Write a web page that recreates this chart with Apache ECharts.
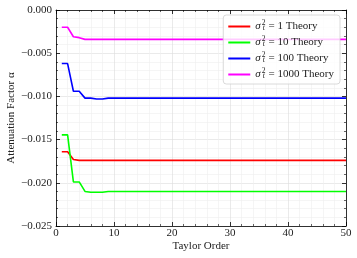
<!DOCTYPE html>
<html><head><meta charset="utf-8">
<script src="https://cdn.jsdelivr.net/npm/echarts@6/dist/echarts.min.js"></script>
<style>html,body{margin:0;padding:0;background:#fff}#c{width:357px;height:258px}</style>
</head><body><div id="c"></div>
<script>
const orders = [1,2,3,4,5,6,7,8,9,10,11,12,13,14,15,16,17,18,19,20,21,22,23,24,25,26,27,28,29,30,31,32,33,34,35,36,37,38,39,40,41,42,43,44,45,46,47,48,49,50];
const seriesNames = ['σ1', 'σ10', 'σ100', 'σ1000'];
const seriesLabels = ['1', '10', '100', '1000'];
const sigma1 = [-0.0164,-0.0164,-0.0173,-0.0174,-0.0174,-0.0174,-0.0174,-0.0174,-0.0174,-0.0174,-0.0174,-0.0174,-0.0174,-0.0174,-0.0174,-0.0174,-0.0174,-0.0174,-0.0174,-0.0174,-0.0174,-0.0174,-0.0174,-0.0174,-0.0174,-0.0174,-0.0174,-0.0174,-0.0174,-0.0174,-0.0174,-0.0174,-0.0174,-0.0174,-0.0174,-0.0174,-0.0174,-0.0174,-0.0174,-0.0174,-0.0174,-0.0174,-0.0174,-0.0174,-0.0174,-0.0174,-0.0174,-0.0174,-0.0174,-0.0174];
const sigma10 = [-0.01445,-0.01445,-0.0199,-0.0199,-0.0210,-0.0211,-0.0211,-0.0211,-0.0210,-0.0210,-0.0210,-0.0210,-0.0210,-0.0210,-0.0210,-0.0210,-0.0210,-0.0210,-0.0210,-0.0210,-0.0210,-0.0210,-0.0210,-0.0210,-0.0210,-0.0210,-0.0210,-0.0210,-0.0210,-0.0210,-0.0210,-0.0210,-0.0210,-0.0210,-0.0210,-0.0210,-0.0210,-0.0210,-0.0210,-0.0210,-0.0210,-0.0210,-0.0210,-0.0210,-0.0210,-0.0210,-0.0210,-0.0210,-0.0210,-0.0210];
const sigma100 = [-0.0062,-0.0062,-0.0094,-0.0094,-0.0102,-0.0102,-0.0103,-0.0103,-0.0102,-0.0102,-0.0102,-0.0102,-0.0102,-0.0102,-0.0102,-0.0102,-0.0102,-0.0102,-0.0102,-0.0102,-0.0102,-0.0102,-0.0102,-0.0102,-0.0102,-0.0102,-0.0102,-0.0102,-0.0102,-0.0102,-0.0102,-0.0102,-0.0102,-0.0102,-0.0102,-0.0102,-0.0102,-0.0102,-0.0102,-0.0102,-0.0102,-0.0102,-0.0102,-0.0102,-0.0102,-0.0102,-0.0102,-0.0102,-0.0102,-0.0102];
const sigma1000 = [-0.0020,-0.0020,-0.0031,-0.0032,-0.0034,-0.0034,-0.0034,-0.0034,-0.0034,-0.0034,-0.0034,-0.0034,-0.0034,-0.0034,-0.0034,-0.0034,-0.0034,-0.0034,-0.0034,-0.0034,-0.0034,-0.0034,-0.0034,-0.0034,-0.0034,-0.0034,-0.0034,-0.0034,-0.0034,-0.0034,-0.0034,-0.0034,-0.0034,-0.0034,-0.0034,-0.0034,-0.0034,-0.0034,-0.0034,-0.0034,-0.0034,-0.0034,-0.0034,-0.0034,-0.0034,-0.0034,-0.0034,-0.0034,-0.0034,-0.0034];
const colors = ['#ff0000', '#00ff00', '#0000ff', '#ff00ff'];
const allValues = [sigma1, sigma10, sigma100, sigma1000];

const font = 'Liberation Serif';
const chart = echarts.init(document.getElementById('c'), null, {renderer: 'canvas'});
const tickStyle = {show: true, inside: true, length: 4, lineStyle: {color: '#000', width: 0.8}};
const minorTick = {show: true, splitNumber: 5, length: 2, lineStyle: {color: '#000', width: 0.6}};
const axisLine = {show: true, onZero: false, lineStyle: {color: '#000', width: 0.8}};
const minorSplit = {show: true, lineStyle: {color: '#efefef', width: 0.6}};
const majorSplit = {show: true, lineStyle: {color: '#dcdcdc', width: 0.6}};
const fmtY = v => (v < 0 ? '\u2212' : '') + Math.abs(v).toFixed(3);

chart.setOption({
  animation: false,
  backgroundColor: '#fff',
  grid: {left: 56, right: 11, top: 10, bottom: 32, outerBoundsMode: 'none', containLabel: false},
  legend: {
    right: 17, top: 15, orient: 'vertical',
    backgroundColor: 'rgba(255,255,255,0.8)', borderColor: '#d0d0d0', borderWidth: 0.8, borderRadius: 3,
    padding: [4, 6, 4, 5], itemGap: 3, itemWidth: 22, itemHeight: 2,
    data: seriesNames.map((n, i) => ({name: n, icon: 'rect', itemStyle: {color: colors[i]}})),
    formatter: n => {
      const i = seriesNames.indexOf(n);
      return '{s|σ}{sup|2}{sub|t}{t| = ' + seriesLabels[i] + ' Theory}';
    },
    textStyle: {
      fontFamily: font, fontSize: 11, color: '#222',
      rich: {
        s: {fontFamily: font, fontSize: 11, fontStyle: 'italic', color: '#222'},
        sup: {fontFamily: font, fontSize: 7.5, color: '#222', padding: [0, 0, 7, 1], width: 0},
        sub: {fontFamily: font, fontSize: 7.5, fontStyle: 'italic', color: '#222', padding: [3, 1, 0, 1]},
        t: {fontFamily: font, fontSize: 11, color: '#222'}
      }
    }
  },
  xAxis: [{
    type: 'value', min: 0, max: 50, interval: 10,
    name: 'Taylor Order', nameLocation: 'middle', nameGap: 15, nameMoveOverlap: false,
    nameTextStyle: {fontFamily: font, fontSize: 11, color: '#222'},
    axisLine, axisTick: tickStyle, minorTick,
    axisLabel: {fontFamily: font, fontSize: 11, color: '#222', margin: 2},
    splitLine: majorSplit, minorSplitLine: minorSplit
  }, {
    type: 'value', min: 0, max: 50, interval: 10, position: 'top',
    axisLine, axisTick: tickStyle, minorTick, axisLabel: {show: false}, splitLine: {show: false}
  }],
  yAxis: [{
    type: 'value', min: -0.025, max: 0, interval: 0.005,
    name: 'Attenuation Factor α', nameLocation: 'middle', nameGap: 39, nameRotate: 90, nameMoveOverlap: false,
    nameTextStyle: {fontFamily: font, fontSize: 11, color: '#222'},
    axisLine, axisTick: tickStyle, minorTick,
    axisLabel: {fontFamily: font, fontSize: 11, color: '#222', margin: 4, formatter: fmtY},
    splitLine: majorSplit, minorSplitLine: minorSplit
  }, {
    type: 'value', min: -0.025, max: 0, interval: 0.005, position: 'right',
    axisLine, axisTick: tickStyle, minorTick, axisLabel: {show: false}, splitLine: {show: false}
  }],
  series: allValues.map((vals, i) => ({
    name: seriesNames[i], type: 'line', showSymbol: false, symbol: 'none',
    xAxisIndex: 0, yAxisIndex: 0,
    data: orders.map((o, j) => [o, vals[j]]),
    lineStyle: {color: colors[i], width: 1.6}, itemStyle: {color: colors[i]}, z: 3
  }))
});
</script></body></html>
